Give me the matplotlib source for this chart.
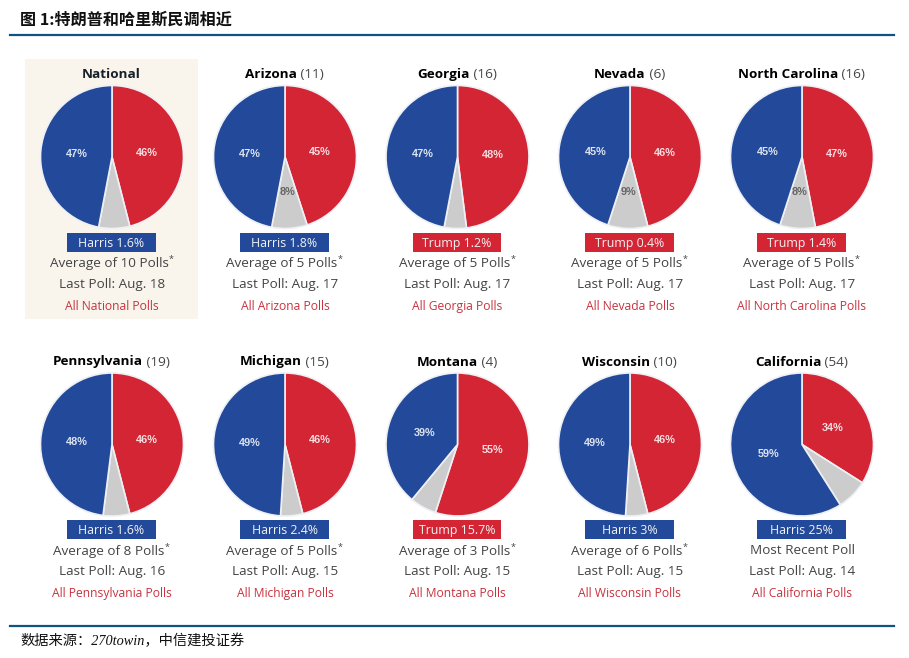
import matplotlib
matplotlib.use('Agg')
import matplotlib.pyplot as plt
from matplotlib.patches import Rectangle
from matplotlib.lines import Line2D

W, H = 909, 658

states = ['National', 'Arizona', 'Georgia', 'Nevada', 'North Carolina',
          'Pennsylvania', 'Michigan', 'Montana', 'Wisconsin', 'California']
votes = [None, 11, 16, 6, 16, 19, 15, 4, 10, 54]
trump = [46, 45, 48, 46, 47, 46, 46, 55, 46, 34]
other = [7, 8, 5, 9, 8, 6, 5, 6, 5, 7]
harris = [47, 47, 47, 45, 45, 48, 49, 39, 49, 59]
leaders = ['Harris 1.6%', 'Harris 1.8%', 'Trump 1.2%', 'Trump 0.4%', 'Trump 1.4%',
           'Harris 1.6%', 'Harris 2.4%', 'Trump 15.7%', 'Harris 3%', 'Harris 25%']
averages = ['Average of 10 Polls', 'Average of 5 Polls', 'Average of 5 Polls',
            'Average of 5 Polls', 'Average of 5 Polls', 'Average of 8 Polls',
            'Average of 5 Polls', 'Average of 3 Polls', 'Average of 6 Polls',
            'Most Recent Poll']
last_polls = ['Aug. 18', 'Aug. 17', 'Aug. 17', 'Aug. 17', 'Aug. 17',
              'Aug. 16', 'Aug. 15', 'Aug. 15', 'Aug. 15', 'Aug. 14']

BLUE = '#234a9a'
RED = '#d42535'
GREY = '#cccccc'
LINE = '#0f5380'
UI = 'Open Sans'

fig = plt.figure(figsize=(W / 100, H / 100), dpi=100)


# pixel position (from top left) to figure fraction
def fx(x):
    return x / W


def fy(y):
    return 1 - y / H


def text_width(t):
    return t.get_window_extent(fig.canvas.get_renderer()).width


# text made of a few runs with different styles, centred as a whole
# each part is (string, style, y offset in pixels)
def runs(cx, y, parts):
    items = [fig.text(0, fy(y + dy), s, va='baseline', ha='left', **kw) for s, kw, dy in parts]
    widths = [text_width(t) for t in items]
    x = cx - sum(widths) / 2
    for t, w in zip(items, widths):
        t.set_x(fx(x))
        x += w


# header and footer
fig.add_artist(Line2D([fx(10), fx(894)], [fy(34.5)] * 2, color=LINE, lw=1.6))
fig.add_artist(Line2D([fx(10), fx(894)], [fy(626)] * 2, color=LINE, lw=1.6))
fig.text(fx(20), fy(19.5), '图 1:特朗普和哈里斯民调相近', fontsize=11.6, fontweight='bold',
         family=['Noto Sans CJK SC', 'DejaVu Sans'], color='#111111', va='center')
fig.text(fx(20), fy(641), '数据来源\uff1a270towin\uff0c中信建投证券', fontsize=10.3, style='italic',
         family=['Liberation Serif', 'Noto Sans CJK SC'], color='#111111', va='center')

# highlighted panel behind National
fig.add_artist(Rectangle((fx(25), fy(319)), 173 / W, 260 / H, transform=fig.transFigure,
                         facecolor='#f9f5ed', edgecolor='none', zorder=-1))

centers_x = [112, 285, 457.5, 630, 802]
centers_y = [157, 444.5]
R = 71.5


def pct_label(pct):
    return '%d%%' % round(pct) if pct >= 8 else ''


for i, state in enumerate(states):
    cx = centers_x[i % 5]
    cy = centers_y[i // 5]
    off = 0 if i < 5 else 287.5

    ax = fig.add_axes([fx(cx - R), fy(cy + R), 2 * R / W, 2 * R / H])
    ax.patch.set_alpha(0)
    wedges, _, autotexts = ax.pie(
        [trump[i], other[i], harris[i]], colors=[RED, GREY, BLUE], startangle=90,
        counterclock=False, radius=1, autopct=pct_label, pctdistance=0.49,
        wedgeprops={'edgecolor': '#eef0f5', 'linewidth': 1.2})
    ax.set_xlim(-1, 1)
    ax.set_ylim(-1, 1)
    for t, c in zip(autotexts, ['#f6dfe1', '#666666', '#dde3f0']):
        t.set_color(c)
        t.set_fontsize(7.8)
        t.set_fontweight('bold')
        t.set_family('Liberation Sans')

    # state name with electoral votes
    parts = [(state, dict(family=UI, fontweight='bold', fontsize=9.7,
                          color='#17202a' if i == 0 else '#000000'), 0)]
    if votes[i] is not None:
        parts.append((' (%d)' % votes[i], dict(family=UI, fontsize=9.7, color='#444444'), 0))
    runs(cx - 0.5, 78 + off, parts)

    # leader box
    col = BLUE if leaders[i].startswith('Harris') else RED
    bx = cx - 45
    fig.add_artist(Rectangle((fx(bx), fy(251.5 + off)), 88.5 / W, 19 / H, transform=fig.transFigure,
                             facecolor=col, edgecolor='none'))
    fig.text(fx(bx + 44.5), fy(246.6 + off), leaders[i], family=UI, fontsize=8.9, color='#f2f2f2',
             ha='center', va='baseline')

    # poll details
    if averages[i].startswith('Average'):
        runs(cx - 0.5, 267 + off, [(averages[i], dict(family=UI, fontsize=9.7, color='#444444'), 0),
                                   ('*', dict(family=UI, fontsize=6.5, color='#444444'), -5)])
    else:
        fig.text(fx(cx), fy(267 + off), averages[i], family=UI, fontsize=9.7, color='#444444',
                 ha='center', va='baseline')
    fig.text(fx(cx), fy(288 + off), 'Last Poll: ' + last_polls[i], family=UI, fontsize=9.7,
             color='#444444', ha='center', va='baseline')
    fig.text(fx(cx), fy(309.5 + off), 'All %s Polls' % state, family=UI, fontsize=8.7,
             color='#c8333f', ha='center', va='baseline')

fig.savefig('out.png', dpi=100)
